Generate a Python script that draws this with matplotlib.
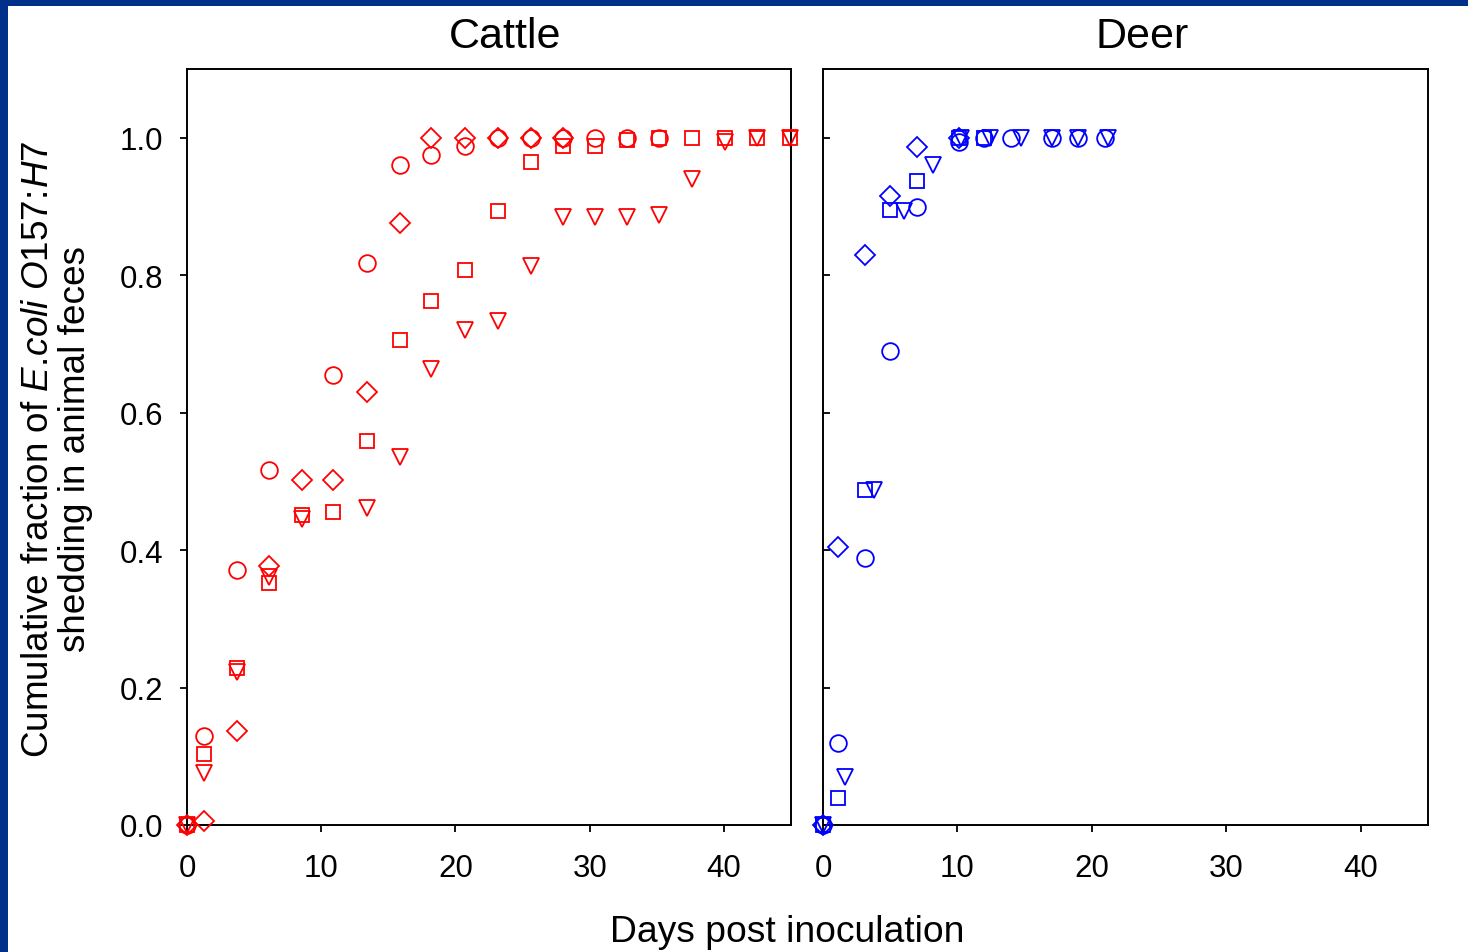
import matplotlib
matplotlib.use("Agg")
import matplotlib.pyplot as plt
from matplotlib.patches import Rectangle

plt.rcParams['font.family'] = ['Liberation Sans', 'DejaVu Sans']
plt.rcParams['mathtext.fontset'] = 'custom'
plt.rcParams['mathtext.rm'] = 'Liberation Sans'
plt.rcParams['mathtext.it'] = 'Liberation Sans:italic'

# ---- Cattle (days post inoculation, cumulative shedding fraction) ----
cattle_circle_days = [0, 1.3, 3.7, 6.1, 10.9, 13.4, 15.9, 18.2, 20.7, 23.2, 25.6, 28.0, 30.4, 32.8, 35.2]
cattle_circle_vals = [0, 0.130, 0.371, 0.517, 0.655, 0.818, 0.961, 0.975, 0.988, 1.0, 1.0, 1.0, 1.0, 1.0, 1.0]

cattle_diamond_days = [0, 1.3, 3.7, 6.1, 8.6, 10.9, 13.4, 15.9, 18.2, 20.7, 23.2, 25.6, 28.0]
cattle_diamond_vals = [0, 0.006, 0.137, 0.377, 0.502, 0.502, 0.630, 0.876, 1.0, 1.0, 1.0, 1.0, 1.0]

cattle_square_days = [0, 1.3, 3.7, 6.1, 8.6, 10.9, 13.4, 15.9, 18.2, 20.7, 23.2, 25.6, 28.0,
                      30.4, 32.8, 35.2, 37.6, 40.1, 42.5, 44.9]
cattle_square_vals = [0, 0.103, 0.229, 0.352, 0.451, 0.456, 0.559, 0.705, 0.763, 0.808, 0.894, 0.964,
                      0.988, 0.988, 0.996, 1.0, 1.0, 1.0, 1.0, 1.0]

cattle_tri_days = [0, 1.3, 3.7, 6.1, 8.6, 13.4, 15.9, 18.2, 20.7, 23.2, 25.6, 28.0, 30.4, 32.8,
                   35.2, 37.6, 40.1, 42.5, 44.9]
cattle_tri_vals = [0, 0.076, 0.223, 0.361, 0.445, 0.461, 0.535, 0.663, 0.720, 0.733, 0.814, 0.885,
                   0.885, 0.885, 0.888, 0.940, 0.994, 0.999, 1.0]

# ---- Deer ----
deer_circle_days = [0, 1.1, 3.1, 5.0, 7.0, 10.1, 12.0, 14.0, 17.0, 19.0, 21.0]
deer_circle_vals = [0, 0.119, 0.389, 0.690, 0.899, 0.994, 1.0, 1.0, 1.0, 1.0, 1.0]

deer_diamond_days = [0, 1.1, 3.1, 5.0, 7.0, 10.1]
deer_diamond_vals = [0, 0.405, 0.830, 0.915, 0.987, 1.0]

deer_square_days = [0, 1.1, 3.1, 5.0, 7.0, 10.1, 12.0]
deer_square_vals = [0, 0.040, 0.487, 0.895, 0.937, 1.0, 1.0]

deer_tri_days = [0, 1.6, 3.8, 6.0, 8.2, 10.3, 12.4, 14.7, 17.0, 19.0, 21.2]
deer_tri_vals = [0, 0.070, 0.488, 0.893, 0.960, 1.0, 1.0, 1.0, 1.0, 1.0, 1.0]

x_ticks = [0, 10, 20, 30, 40]
y_ticks = [0.0, 0.2, 0.4, 0.6, 0.8, 1.0]
y_tick_labels = ["0.0", "0.2", "0.4", "0.6", "0.8", "1.0"]

W, H = 1468, 953
fig = plt.figure(figsize=(W / 100, H / 100), dpi=100)
fig.patch.set_facecolor("white")

# frame strips along the top and left edges
border = "#003089"
fig.patches.append(Rectangle((0, 1 - 7 / H), 1, 7 / H, transform=fig.transFigure,
                             facecolor=border, edgecolor="none", zorder=0))
fig.patches.append(Rectangle((0, 0), 8 / W, 1, transform=fig.transFigure,
                             facecolor=border, edgecolor="none", zorder=0))

ax1 = fig.add_axes([187 / W, (H - 826) / H, 604 / W, 756 / H])
ax2 = fig.add_axes([823 / W, (H - 826) / H, 605 / W, 756 / H])

def draw(ax, color, series):
    styles = [("o", 12), ("D", 10.2), ("s", 10.6), ("v", 12)]
    for (days, vals), (m, ms) in zip(series, styles):
        ax.plot(days, vals, linestyle="none", marker=m, markersize=ms,
                markerfacecolor="none", markeredgecolor=color, markeredgewidth=1.3,
                clip_on=False, zorder=3)

draw(ax1, "#FF0000", [(cattle_circle_days, cattle_circle_vals),
                      (cattle_diamond_days, cattle_diamond_vals),
                      (cattle_square_days, cattle_square_vals),
                      (cattle_tri_days, cattle_tri_vals)])
draw(ax2, "#0000FF", [(deer_circle_days, deer_circle_vals),
                      (deer_diamond_days, deer_diamond_vals),
                      (deer_square_days, deer_square_vals),
                      (deer_tri_days, deer_tri_vals)])

for ax, title in [(ax1, "Cattle"), (ax2, "Deer")]:
    ax.set_xlim(0, 45)
    ax.set_ylim(0, 1.1)
    ax.set_xticks(x_ticks)
    ax.set_yticks(y_ticks)
    for s in ax.spines.values():
        s.set_linewidth(1.4)
        s.set_color("black")
    ax.tick_params(axis="x", direction="out", length=5, width=1.3, labelsize=22.5, pad=15)
    ax.set_title(title, fontsize=31, x=0.527, pad=16)

ax1.set_yticklabels(y_tick_labels)
ax1.tick_params(axis="y", direction="out", length=5, width=1.3, labelsize=22.5, pad=12)
ax2.tick_params(axis="y", direction="in", length=5, width=1.3, labelleft=False)

fig.text(787 / W, 1 - 933 / H, "Days post inoculation", fontsize=26.8,
         ha="center", va="center")
fig.text(57 / W, 1 - 449 / H,
         "Cumulative fraction of $\\it{E.\\!coli\\ O157\\!:\\!H7}$\nshedding in animal feces",
         fontsize=26.6, rotation=90, ha="center", va="center", multialignment="center",
         linespacing=1.05)

fig.savefig("out.png", dpi=100)
